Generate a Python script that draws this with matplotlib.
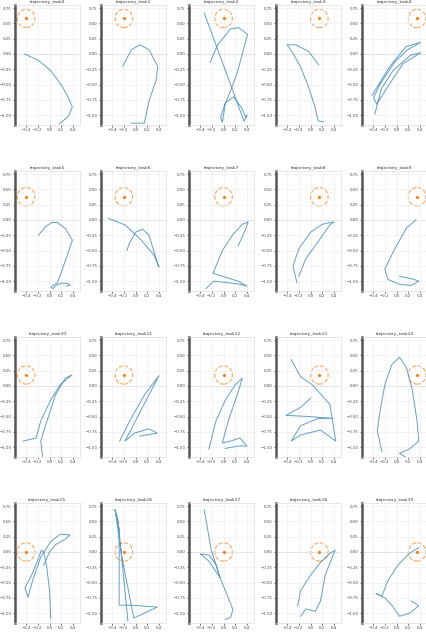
import matplotlib.pyplot as plt
from matplotlib.patches import Circle

# 20 trajectories, one per panel
task_names = ["trajectory_task%d" % i for i in range(20)]

target_x = [-0.4, -0.2, 0.0, 0.15, 0.35] * 4
target_y = [0.58] * 5 + [0.38] * 5 + [0.18] * 5 + [0.0] * 5
target_r = 0.15

traj_x = [
    [-0.43, -0.2, 0.02, 0.21, 0.32, 0.39, 0.32, 0.17],
    [-0.22, -0.07, 0.07, 0.23, 0.38, 0.35, 0.23, 0.15, -0.07],
    [-0.23, -0.1, 0.12, 0.26, 0.41, 0.23, 0.12, 0.0, -0.05, -0.02, 0.03, 0.17, 0.31, 0.38, 0.4, 0.35, -0.33],
    [0.14, -0.03, -0.25, -0.4, -0.3, -0.17, -0.03, 0.08, 0.13, 0.22],
    [-0.42, -0.12, 0.16, 0.41, 0.19, -0.03, -0.28, -0.39, -0.34, -0.12, 0.11, 0.41, 0.24, -0.06, -0.26, -0.37],
    [-0.19, -0.07, 0.04, 0.13, 0.27, 0.39, 0.29, 0.21, 0.13, 0.07, 0.02, 0.06, 0.12, 0.21, 0.32, 0.35, 0.28],
    [-0.47, -0.18, 0.1, 0.32, 0.4, 0.35, 0.23, 0.12, 0.0, -0.1, -0.15],
    [-0.3, -0.17, 0.03, 0.28, 0.4, 0.25, -0.18, -0.02, 0.15, 0.32, 0.42, 0.37, 0.25],
    [-0.23, -0.3, -0.2, 0.0, 0.2, 0.4, 0.33, 0.17, -0.08, -0.2],
    [0.33, 0.17, -0.03, -0.2, -0.15, 0.05, 0.25, 0.38, 0.3, 0.05],
    [-0.45, -0.23, -0.15, 0.02, 0.18, 0.38, 0.27, 0.1, -0.07, -0.15, -0.12],
    [-0.27, -0.1, 0.15, 0.4, 0.2, -0.18, -0.02, 0.23, 0.37, 0.07],
    [-0.25, -0.13, 0.03, 0.2, 0.32, 0.25, 0.08, -0.02, 0.12, 0.28, 0.4, 0.25, 0.03],
    [-0.33, -0.17, 0.03, 0.33, 0.43, 0.17, -0.17, -0.33, -0.17, 0.13, 0.37, 0.0, -0.42, -0.17, 0.0],
    [-0.25, -0.33, -0.28, -0.2, -0.08, 0.05, 0.17, 0.27, 0.35, 0.38, 0.22, 0.05, 0.17],
    [0.02, 0.0, -0.05, -0.1, -0.14, -0.2, -0.32, -0.42, -0.37, -0.29, -0.15, 0.02, 0.18, 0.35, 0.27, 0.1, -0.01, -0.1],
    [-0.35, -0.24, -0.03, 0.37, -0.07, -0.28, -0.28, -0.35, -0.3, -0.13],
    [-0.33, -0.21, -0.06, -0.13, -0.25, -0.4, -0.25, -0.06, 0.03, 0.16, 0.12, 0.03],
    [-0.22, -0.17, 0.0, 0.17, 0.33, 0.42, 0.25, 0.17, 0.08, -0.08, -0.17],
    [0.38, 0.22, 0.02, -0.15, -0.25, -0.35, -0.2, -0.07, 0.05, 0.22, 0.38, 0.25],
]
traj_y = [
    [0.0, -0.1, -0.27, -0.52, -0.71, -0.87, -1.02, -1.14],
    [-0.2, 0.07, 0.15, 0.07, -0.21, -0.43, -0.77, -1.13, -1.13],
    [-0.14, 0.15, 0.41, 0.43, 0.32, -0.32, -0.6, -0.88, -1.04, -1.12, -0.8, -0.7, -0.88, -1.04, -1.0, -1.1, 0.67],
    [-0.18, 0.04, 0.15, 0.15, 0.01, -0.21, -0.55, -0.88, -1.09, -1.11],
    [-0.68, -0.21, 0.12, 0.19, 0.07, -0.13, -0.49, -0.71, -0.82, -0.49, -0.16, 0.02, -0.02, -0.27, -0.57, -0.98],
    [-0.25, -0.11, -0.04, -0.04, -0.14, -0.33, -0.61, -0.83, -1.03, -1.06, -1.1, -1.12, -1.06, -1.03, -1.04, -1.07, -1.08],
    [0.03, -0.08, -0.33, -0.58, -0.77, -0.63, -0.25, -0.15, -0.2, -0.37, -0.5],
    [-1.12, -1.0, -1.02, -1.05, -1.08, -1.0, -0.87, -0.5, -0.25, -0.07, -0.03, -0.17, -0.42],
    [-1.03, -0.75, -0.47, -0.2, -0.07, -0.03, -0.08, -0.3, -0.63, -0.92],
    [0.0, -0.13, -0.47, -0.8, -0.97, -1.05, -1.07, -1.0, -0.97, -0.92],
    [-0.9, -0.85, -0.57, -0.23, 0.02, 0.18, 0.13, -0.15, -0.65, -0.9, -1.15],
    [-0.9, -0.57, -0.15, 0.17, -0.2, -0.9, -0.77, -0.7, -0.77, -0.82],
    [-1.03, -0.57, -0.23, 0.02, 0.13, -0.1, -0.57, -0.93, -0.9, -0.85, -0.98, -0.98, -1.02],
    [0.43, 0.15, 0.02, -0.3, -0.9, -0.72, -0.8, -0.9, -0.65, -0.53, -0.53, -0.5, -0.48, -0.35, -0.2],
    [-1.07, -0.73, -0.4, 0.02, 0.35, 0.47, 0.3, -0.07, -0.57, -0.9, -1.03, -1.1, -1.17],
    [-1.09, -0.63, -0.23, 0.0, 0.03, -0.13, -0.41, -0.58, -0.74, -0.47, -0.08, 0.17, 0.29, 0.28, 0.21, 0.12, -0.02, -0.22],
    [0.69, -0.05, -1.08, -0.9, -0.87, -0.87, 0.37, 0.69, 0.53, -1.13],
    [0.69, 0.03, -0.42, -0.2, -0.05, -0.03, -0.15, -0.42, -0.63, -0.94, -1.07, -1.1],
    [-0.88, -0.63, -0.38, -0.17, -0.02, 0.03, -0.38, -0.8, -0.97, -0.93, -1.05],
    [0.07, -0.02, -0.22, -0.47, -0.72, -0.68, -0.75, -0.88, -1.05, -1.0, -0.88, -0.8],
]

x_ticks = [-0.4, -0.2, 0.0, 0.2, 0.4]
y_ticks = [0.75, 0.5, 0.25, 0.0, -0.25, -0.5, -0.75, -1.0]

W, H = 427, 633
fig = plt.figure(figsize=(W / 100, H / 100), dpi=100)

col_left = [15, 101, 189, 276, 362]
row_top = [5, 171, 337, 503]
ax_w, ax_h = 65, 120

for i in range(20):
    r, c = divmod(i, 5)
    ax = fig.add_axes([col_left[c] / W, (H - row_top[r] - ax_h) / H, ax_w / W, ax_h / H])
    ax.plot(traj_x[i], traj_y[i], color="tab:blue", lw=0.7, alpha=0.7)
    ax.add_patch(Circle((target_x[i], target_y[i]), target_r, fill=False,
                        ls="--", lw=0.8, color="tab:orange", alpha=0.7))
    ax.plot(target_x[i], target_y[i], "o", ms=1.3, color="tab:orange")
    ax.axhline(0, color="#cccccc", lw=0.7, zorder=0)
    ax.set_xlim(-0.59, 0.52)
    ax.set_ylim(-1.16, 0.8)
    ax.set_xticks(x_ticks)
    ax.set_yticks(y_ticks)
    ax.tick_params(labelsize=2.8, length=1.5, width=0.4, pad=1, labelcolor="#444444")
    ax.grid(True, color="#eeeeee", lw=0.5)
    for s in ax.spines.values():
        s.set_color("#dddddd")
        s.set_linewidth(0.5)
    ax.spines["left"].set_color("#555555")
    ax.spines["left"].set_linewidth(1.8)
    ax.set_title(task_names[i], fontsize=3.2, pad=1.5, color="#333333")

fig.savefig("out.png", dpi=100)
